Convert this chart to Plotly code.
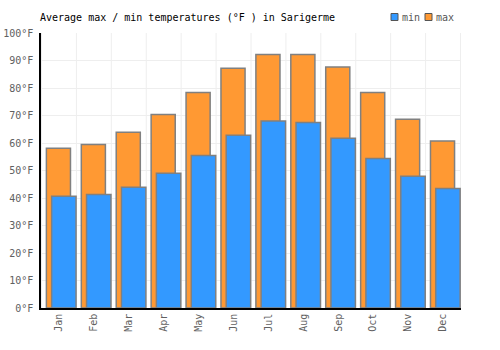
import plotly.graph_objects as go

months = ["Jan", "Feb", "Mar", "Apr", "May", "Jun", "Jul", "Aug", "Sep", "Oct", "Nov", "Dec"]
max_temps = [58.1, 59.5, 63.9, 70.4, 78.4, 87.2, 92.2, 92.2, 87.6, 78.4, 68.6, 60.7]
min_temps = [40.6, 41.3, 43.9, 49.0, 55.5, 62.8, 68.0, 67.5, 61.7, 54.4, 47.9, 43.5]
y_ticks = [0, 10, 20, 30, 40, 50, 60, 70, 80, 90, 100]
y_labels = [f"{v}°F" for v in y_ticks]
legend_names = ["min", "max"]
legend_colors = ["#3399FF", "#FF9933"]

font_family = "DejaVu Sans Mono"
border = dict(color="#808080", width=1.5)
W, H = 500, 350
L, R, T, B = 41, 39, 33, 42

fig = go.Figure()
fig.add_trace(go.Bar(
    x=months, y=max_temps, name="max",
    marker=dict(color="#FF9933", line=border),
    width=0.69, offset=-0.36,
))
fig.add_trace(go.Bar(
    x=months, y=min_temps, name="min",
    marker=dict(color="#3399FF", line=border),
    width=0.7, offset=-0.21,
))

fig.update_layout(
    width=W, height=H,
    margin=dict(l=L, r=R, t=T, b=B, autoexpand=False),
    paper_bgcolor="white", plot_bgcolor="white",
    barmode="overlay",
    font=dict(family=font_family, size=10, color="#555555"),
    title=dict(text="Average max / min temperatures (°F ) in Sarigerme",
               x=40/W, xanchor="left", y=1-17/H, yanchor="middle",
               font=dict(family=font_family, size=10, color="#000000")),
    showlegend=False,
)
fig.update_xaxes(
    type="category", tickangle=-90, showline=True, linecolor="#000000", linewidth=1.5,
    showgrid=False, ticks="", automargin=False,
    tickfont=dict(family=font_family, size=10, color="#606060"),
)
fig.update_yaxes(
    range=[0, 100], tickvals=y_ticks, ticktext=y_labels,
    showline=True, linecolor="#000000", linewidth=1.5, automargin=False,
    showgrid=True, gridcolor="#eeeeee", zeroline=False, ticks="",
    ticklabelstandoff=4,
    tickfont=dict(family=font_family, size=10, color="#606060"),
)
# Vertical gridlines at category boundaries
for i in range(len(months) + 1):
    fig.add_shape(type="line", xref="x", yref="paper", x0=i - 0.5, x1=i - 0.5, y0=0, y1=1,
                  line=dict(color="#eeeeee", width=1), layer="below")

# Manual legend (top right)
pw, ph = W - L - R, H - T - B
leg_x = [391, 425]
leg_y = 17
for name, col, lx in zip(legend_names, legend_colors, leg_x):
    x0 = (lx - L) / pw
    x1 = (lx + 7 - L) / pw
    y0 = (H - B - (leg_y + 3.5)) / ph
    y1 = (H - B - (leg_y - 3.5)) / ph
    fig.add_shape(type="rect", xref="paper", yref="paper", x0=x0, x1=x1, y0=y0, y1=y1,
                  fillcolor=col, line=dict(color="#555555", width=1))
    fig.add_annotation(text=name, xref="paper", yref="paper",
                       x=(lx + 9 - L) / pw, xanchor="left",
                       y=(H - B - leg_y) / ph, yanchor="middle", showarrow=False,
                       font=dict(family=font_family, size=10, color="#555555"))

fig.write_html("out.html")
